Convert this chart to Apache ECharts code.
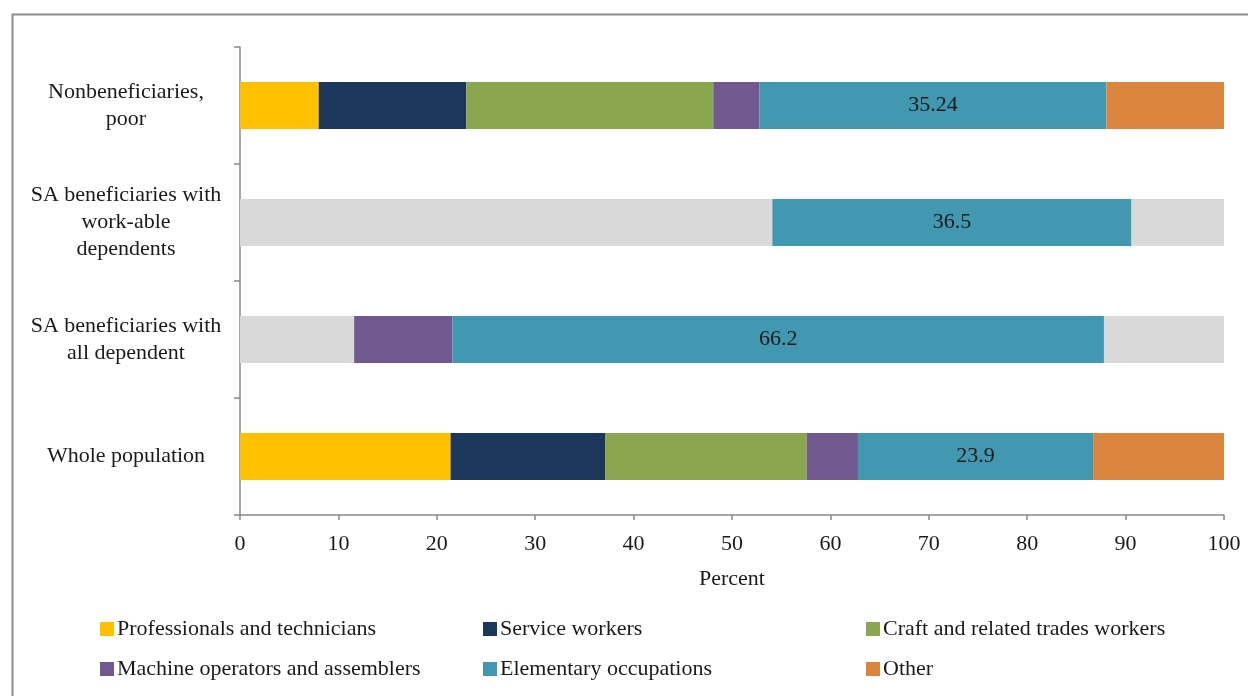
<!DOCTYPE html>
<html>
<head>
<meta charset="utf-8">
<script src="https://cdn.jsdelivr.net/npm/echarts@6/dist/echarts.min.js"></script>
<style>
html,body{margin:0;padding:0;background:#fff;}
#chart{width:1248px;height:696px;}
</style>
</head>
<body>
<div id="chart"></div>
<script>
const categories = [
  "Nonbeneficiaries,\npoor",
  "SA beneficiaries with\nwork-able\ndependents",
  "SA beneficiaries with\nall dependent",
  "Whole population"
];
const xTicks = [0, 10, 20, 30, 40, 50, 60, 70, 80, 90, 100];
const professionals = [8.0, 0, 0, 21.4];
const serviceWorkers = [15.0, 0, 0, 15.7];
const craftWorkers = [25.1, 0, 0, 20.5];
const grayBefore = [0, 54.1, 11.6, 0];
const machineOperators = [4.7, 0, 10.0, 5.2];
const elementary = [35.24, 36.5, 66.2, 23.9];
const other = [12.0, 0, 0, 13.3];
const grayAfter = [0, 9.4, 12.2, 0];

const FONT = "'Liberation Serif', 'DejaVu Serif', serif";
const AXIS = '#898989';
const FS = 22;

function bar(name, data, color, extra) {
  return Object.assign({
    name: name, type: 'bar', stack: 'total', data: data,
    barWidth: '40%',
    itemStyle: { color: color },
    emphasis: { disabled: true }
  }, extra || {});
}

function legendCol(left, names) {
  return {
    left: left, top: 618, orient: 'vertical', padding: 0,
    icon: 'rect', itemWidth: 14, itemHeight: 14, itemGap: 18,
    data: names, selectedMode: false,
    textStyle: { fontFamily: FONT, fontSize: FS, color: '#1a1a1a', padding: [0, 0, 0, -2], lineHeight: 22 }
  };
}

const chart = echarts.init(document.getElementById('chart'));
chart.setOption({
  animation: false,
  backgroundColor: '#fff',
  textStyle: { fontFamily: FONT },
  graphic: [{
    type: 'rect', left: 10, top: 12,
    shape: { width: 1300, height: 800 },
    style: { fill: 'none', stroke: '#8c8c8c', lineWidth: 2 },
    silent: true
  }],
  grid: { left: 240, right: 24, top: 47, bottom: 181 },
  xAxis: {
    type: 'value', min: xTicks[0], max: xTicks[xTicks.length - 1], interval: 10,
    name: 'Percent', nameLocation: 'middle', nameGap: 53,
    nameTextStyle: { fontFamily: FONT, fontSize: FS, color: '#1a1a1a' },
    axisLine: { show: true, lineStyle: { color: AXIS, width: 1.5 } },
    axisTick: { show: true, length: 5, lineStyle: { color: AXIS, width: 1.5 } },
    axisLabel: { fontFamily: FONT, fontSize: FS, color: '#1a1a1a', margin: 18 },
    splitLine: { show: false }
  },
  yAxis: {
    type: 'category', data: categories, inverse: true,
    axisLine: { show: true, lineStyle: { color: AXIS, width: 1.5 } },
    axisTick: { show: true, length: 6, lineStyle: { color: AXIS, width: 1.5 } },
    axisLabel: {
      fontFamily: FONT, fontSize: FS, color: '#1a1a1a', lineHeight: 27,
      align: 'center', margin: 114
    }
  },
  legend: [
    legendCol(100, ['Professionals and technicians', 'Machine operators and assemblers']),
    legendCol(483, ['Service workers', 'Elementary occupations']),
    legendCol(866, ['Craft and related trades workers', 'Other'])
  ],
  series: [
    bar('Professionals and technicians', professionals, '#FFC000'),
    bar('Service workers', serviceWorkers, '#1B375C'),
    bar('Craft and related trades workers', craftWorkers, '#8AA64E'),
    bar('grayBefore', grayBefore, '#D9D9D9'),
    bar('Machine operators and assemblers', machineOperators, '#71588F'),
    bar('Elementary occupations', elementary, '#4298B0', {
      label: { show: true, position: 'inside', fontFamily: FONT, fontSize: FS, color: '#1a1a1a',
        formatter: p => String(p.value) }
    }),
    bar('Other', other, '#DB843D'),
    bar('grayAfter', grayAfter, '#D9D9D9')
  ]
});
</script>
</body>
</html>
